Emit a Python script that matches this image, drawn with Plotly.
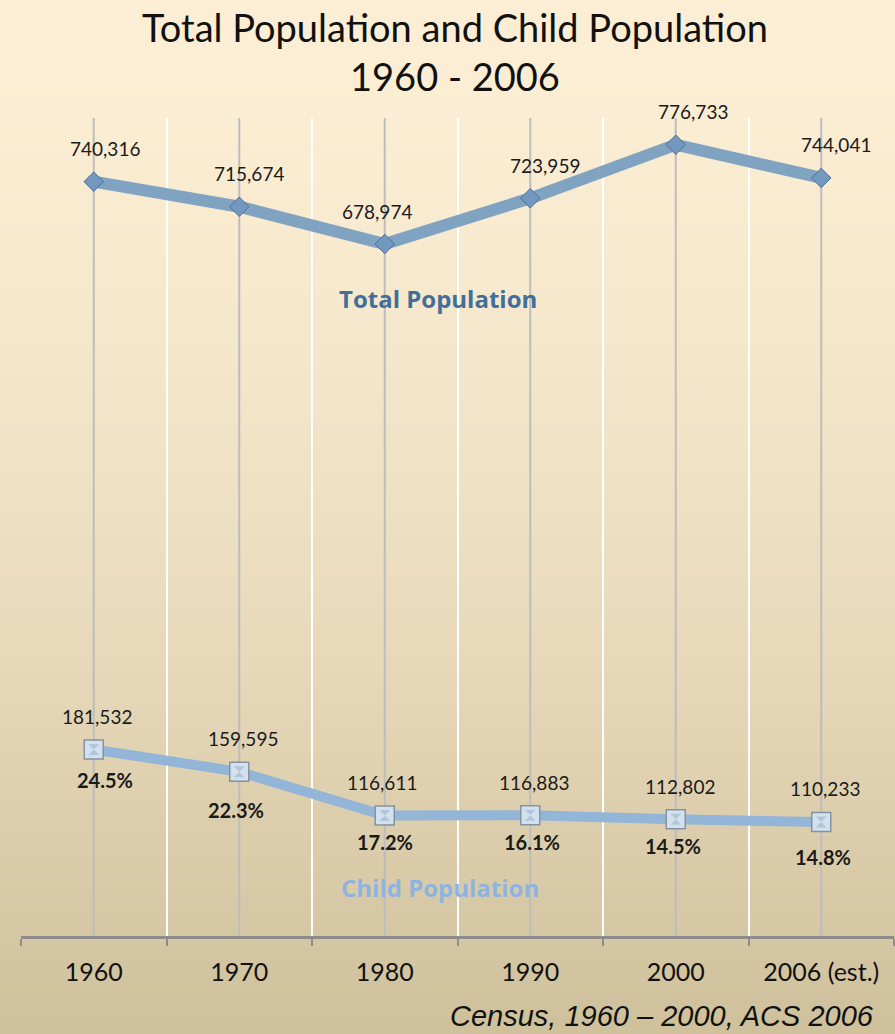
import plotly.graph_objects as go

# ---- data ----
years = ["1960", "1970", "1980", "1990", "2000", "2006 (est.)"]
total_population = [740316, 715674, 678974, 723959, 776733, 744041]
child_population = [181532, 159595, 116611, 116883, 112802, 110233]
child_share_pct = [24.5, 22.3, 17.2, 16.1, 14.5, 14.8]

# ---- label offsets (pixels) ----
total_lbl_dx = [11, 10, -8, 15, 17, 15]
child_lbl_dx = [3, 4, -3, 4, 4, 4]
pct_lbl_dx = [11, -3, 0, 2, -3, 2]
pct_lbl_dy = [-30, -38, -27, -27, -27, -35]

W, H = 895, 1034
ML, MR, MT, MB = 21, 1, 118, 98
PW, PH = W - ML - MR, H - MT - MB
FONT = "Lato"


def px(x):
    return (x - ML) / PW


def py(y):
    return (H - MB - y) / PH


fig = go.Figure()

# background gradient (paper-referenced bands)
top_rgb = (253, 239, 213)
bot_rgb = (207, 193, 156)
n_bands = 120
y_top, y_bot = py(0), py(H)
for i in range(n_bands):
    f = i / (n_bands - 1)
    r = int(top_rgb[0] + (bot_rgb[0] - top_rgb[0]) * f ** 1.6)
    g = int(top_rgb[1] + (bot_rgb[1] - top_rgb[1]) * f ** 1.6)
    b = int(top_rgb[2] + (bot_rgb[2] - top_rgb[2]) * f ** 1.6)
    step = (y_top - y_bot) / n_bands
    fig.add_shape(type="rect", xref="paper", yref="paper",
                  x0=px(-5), x1=px(W + 5),
                  y0=y_top - (i + 1) * step - 0.002, y1=y_top - i * step,
                  fillcolor=f"rgb({r},{g},{b})", line_width=0, layer="below")

# gray center gridlines
for i in range(len(years)):
    fig.add_shape(type="line", xref="x", yref="paper", x0=i, x1=i, y0=0, y1=1,
                  line=dict(color="#bdbdbd", width=2), layer="below")

fig.add_trace(go.Scatter(
    x=years, y=total_population, mode="lines+markers",
    line=dict(color="#80a3c2", width=12),
    marker=dict(symbol="diamond", size=15, color="#7398c0",
                line=dict(color="#4d6f96", width=1)),
    hoverinfo="skip", showlegend=False))

fig.add_trace(go.Scatter(
    x=years, y=child_population, mode="lines+markers",
    line=dict(color="#93b5d7", width=10),
    marker=dict(symbol="square", size=19, color="#d3e1ef",
                line=dict(color="#8393a3", width=1.5)),
    hoverinfo="skip", showlegend=False))
fig.add_trace(go.Scatter(
    x=years, y=child_population, mode="markers",
    marker=dict(symbol="hourglass", size=11, color="#b3c6d9",
                line=dict(color="#b3c6d9", width=0)),
    hoverinfo="skip", showlegend=False))

ann = []
for i in range(len(years)):
    ann.append(dict(x=i, y=total_population[i], xref="x", yref="y",
                    text=f"{total_population[i]:,}", showarrow=False,
                    xshift=total_lbl_dx[i], yshift=33,
                    font=dict(family=FONT, size=19, color="#1a1a1a")))
    ann.append(dict(x=i, y=child_population[i], xref="x", yref="y",
                    text=f"{child_population[i]:,}", showarrow=False,
                    xshift=child_lbl_dx[i], yshift=33,
                    font=dict(family=FONT, size=19, color="#1a1a1a")))
    ann.append(dict(x=i, y=child_population[i], xref="x", yref="y",
                    text=f"<b>{child_share_pct[i]}%</b>", showarrow=False,
                    xshift=pct_lbl_dx[i], yshift=pct_lbl_dy[i],
                    font=dict(family=FONT, size=20, color="#1a1a1a")))

ann.append(dict(x=px(438), y=py(298), xref="paper", yref="paper",
                xanchor="center", yanchor="middle",
                text="<b>Total Population</b>", showarrow=False,
                font=dict(family="Open Sans", size=24, color="#426f99")))
ann.append(dict(x=px(440), y=py(887), xref="paper", yref="paper",
                xanchor="center", yanchor="middle",
                text="<b>Child Population</b>", showarrow=False,
                font=dict(family="Open Sans", size=24, color="#8db3e0")))
ann.append(dict(x=px(876), y=py(1016), xref="paper", yref="paper",
                xanchor="right", yanchor="middle",
                text="<i>Census, 1960 – 2000, ACS 2006</i>",
                showarrow=False,
                font=dict(family="Liberation Sans", size=29, color="#111111")))
ann.append(dict(x=px(455), y=py(51), xref="paper", yref="paper",
                xanchor="center", yanchor="middle",
                text="Total Population and Child Population<br>1960 - 2006",
                showarrow=False,
                font=dict(family=FONT, size=38, color="#111111")))

fig.update_layout(
    width=W, height=H,
    margin=dict(l=ML, r=MR, t=MT, b=MB),
    paper_bgcolor="#f3e6c8", plot_bgcolor="rgba(0,0,0,0)",
    annotations=ann,
    xaxis=dict(type="category", tickson="boundaries", showgrid=True,
               gridcolor="#ffffff", gridwidth=2,
               showline=True, linecolor="#8c8c8c", linewidth=3,
               ticks="outside", ticklen=7, tickcolor="#8c8c8c", tickwidth=2,
               ticklabelstandoff=12,
               tickfont=dict(family=FONT, size=25, color="#111111"),
               range=[-0.5, 5.5], fixedrange=True),
    yaxis=dict(range=[-2000, 803000], showgrid=False, zeroline=False,
               showticklabels=False, showline=False, fixedrange=True),
)

fig.write_html("out.html", config={"displayModeBar": False},
               post_script="document.body.style.margin='0';")
